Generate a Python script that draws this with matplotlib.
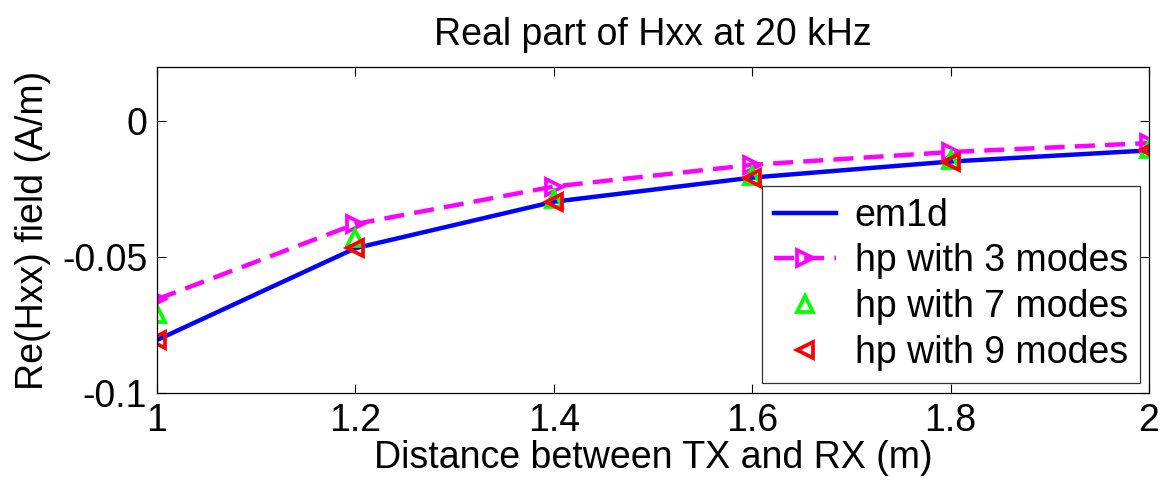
import matplotlib
matplotlib.use("Agg")
import matplotlib.pyplot as plt

plt.rcParams['font.family'] = ['Liberation Sans', 'DejaVu Sans']

distance = [1.0, 1.2, 1.4, 1.6, 1.8, 2.0]
em1d = [-0.0805, -0.0467, -0.0296, -0.0207, -0.0148, -0.0107]
hp3 = [-0.0655, -0.0378, -0.0240, -0.0160, -0.0113, -0.0080]
hp7 = [-0.0710, -0.0430, -0.0285, -0.0200, -0.0143, -0.0100]
hp9 = [-0.0805, -0.0467, -0.0296, -0.0207, -0.0148, -0.0107]

xticks = [1, 1.2, 1.4, 1.6, 1.8, 2]
xticklabels = ['1', '1.2', '1.4', '1.6', '1.8', '2']
yticks = [-0.1, -0.05, 0]
yticklabels = ['-0.1', '-0.05', '0']

fs = 27
fig = plt.figure(figsize=(11.62, 4.8), dpi=100)
ax = fig.add_axes([157/1162, 87/480, 992/1162, 326/480])

ax.plot(distance, em1d, color='#0000ff', lw=3.2, label='em1d')
ax.plot(distance, hp3, color='#ff00ff', lw=3.2, linestyle=(0, (4.5, 2.3)),
        marker='>', ms=12, mfc='none', mew=2.7, label='hp with 3 modes')
ax.plot(distance, hp7, color='#00ff00', lw=0, linestyle='none',
        marker='^', ms=12, mfc='none', mew=2.7, label='hp with 7 modes')
ax.plot(distance, hp9, color='#ff0000', lw=0, linestyle='none',
        marker='<', ms=12, mfc='none', mew=2.7, label='hp with 9 modes')

ax.set_xlim(1, 2)
ax.set_ylim(-0.1, 0.02)
ax.set_xticks(xticks)
ax.set_xticklabels(xticklabels)
ax.set_yticks(yticks)
ax.set_yticklabels(yticklabels)
ax.tick_params(direction='in', length=6.5, width=0.8, labelsize=fs,
               top=True, right=True, pad=7)
for s in ax.spines.values():
    s.set_linewidth(0.9)
    s.set_color('black')

ax.set_title('Real part of Hxx at 20 kHz', fontsize=fs, pad=16)
ax.set_xlabel('Distance between TX and RX (m)', fontsize=fs, labelpad=1)
ax.set_ylabel('Re(Hxx) field (A/m)', fontsize=fs, labelpad=8)

leg = ax.legend(loc='lower right', bbox_to_anchor=(0.991, 0.031),
                borderaxespad=0, fontsize=fs, frameon=True, fancybox=False,
                edgecolor='black', handlelength=1.65, handletextpad=0.5,
                labelspacing=0.26, borderpad=0.32)
leg.get_frame().set_linewidth(0.9)

fig.savefig('out.png', dpi=100)
